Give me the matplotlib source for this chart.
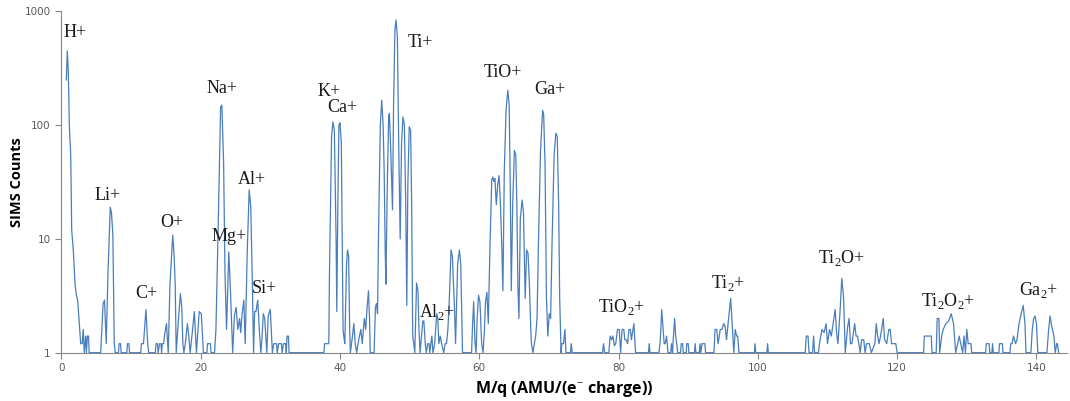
import numpy as np
import matplotlib
matplotlib.use('Agg')
from matplotlib import pyplot as plt

# spectrum vertices (mass/charge, counts)
mass = [
    0.72, 0.86, 1.0, 1.15, 1.35, 1.49, 1.72, 1.97, 2.16, 2.35, 2.58, 2.78, 3.0, 3.15, 3.3, 3.5, 3.6, 3.75, 3.9, 4.0,
    5.65, 6.0, 6.2, 6.45, 6.7, 7.03, 7.2, 7.4, 7.6, 7.75, 8.2, 8.3, 8.5, 8.6, 9.4, 9.5, 9.7, 9.8,
    11.4, 11.5, 11.8, 12.15, 12.4, 12.55, 13.5, 13.6, 13.8, 13.9, 14.1, 14.3, 14.4, 14.5, 14.7, 14.8, 15.1, 15.35,
    15.6, 16.0, 16.2, 16.35, 16.5, 16.85, 17.1, 17.3, 17.45, 17.6, 17.8, 18.1, 18.3, 18.5, 18.8, 19.1, 19.4,
    19.8, 20.1, 20.4, 20.9, 21.0, 21.4, 21.5, 22.0, 22.2, 22.5, 22.87, 23.05, 23.3, 23.5, 23.72, 24.05, 24.3,
    24.6, 24.85, 25.1, 25.35, 25.6, 25.75, 25.96, 26.2, 26.4, 26.7, 26.97, 27.2, 27.4, 27.6, 27.75, 27.95,
    28.2, 28.45, 28.65, 28.8, 29.0, 29.2, 29.5, 29.7, 30.0, 30.3, 30.5, 30.9, 31.0, 31.2, 31.6, 31.7, 31.9,
    32.2, 32.3, 32.4, 32.6, 32.7,
    37.7, 37.8, 38.4, 38.5, 38.8, 39.0, 39.2, 39.45, 39.55, 39.7, 39.85, 40.0, 40.2, 40.45, 40.55, 40.7,
    40.95, 41.1, 41.25, 41.4, 41.5, 41.8, 42.0, 42.2, 42.4, 42.6, 42.8, 43.0, 43.2, 43.5, 43.7, 43.9, 44.1,
    44.25, 44.35, 44.9, 45.1, 45.25, 45.4, 45.55, 45.8, 46.0, 46.2, 46.35, 46.5, 46.6, 46.8, 47.0, 47.1,
    47.3, 47.55, 47.7, 47.9, 48.05, 48.25, 48.45, 48.65, 48.85, 49.05, 49.25, 49.45, 49.6, 49.75, 49.95,
    50.15, 50.3, 50.45, 50.6, 50.75, 51.0, 51.2, 51.35, 51.5, 51.9, 52.05, 52.25, 52.4, 52.6, 52.8, 52.9,
    53.2, 53.35, 53.6, 53.9, 54.05, 54.2, 54.4, 54.6, 54.9, 55.1, 55.3, 55.5, 55.7, 55.95, 56.15, 56.3,
    56.45, 56.6, 56.9, 57.15, 57.35, 57.5, 57.6, 58.9, 59.05, 59.2, 59.4, 59.55, 59.7, 59.9, 60.1, 60.35,
    60.55, 60.75, 60.9, 61.1, 61.3, 61.55, 61.8, 61.95, 62.1, 62.25, 62.45, 62.65, 62.85, 63.05, 63.25,
    63.4, 63.6, 63.85, 64.1, 64.3, 64.45, 64.6, 64.8, 65.05, 65.25, 65.4, 65.55, 65.7, 65.9, 66.15, 66.35,
    66.5, 66.6, 66.8, 67.0, 67.2, 67.4, 67.5, 67.7, 68.1, 68.3, 68.5, 68.8, 69.1, 69.25, 69.45, 69.65,
    69.85, 70.05, 70.25, 70.45, 70.75, 71.0, 71.2, 71.4, 71.55, 71.75, 71.85, 72.1, 72.3, 72.45, 73.1,
    73.2, 73.35,
    77.7, 77.85, 78.0, 78.6, 78.8, 79.0, 79.2, 79.4, 79.6, 79.85, 80.1, 80.3, 80.5, 80.75, 80.9, 81.1,
    81.3, 81.5, 81.7, 81.85, 82.2, 82.45, 84.3, 84.4, 84.5, 85.8, 86.0, 86.2, 86.4, 86.55, 86.7, 86.9,
    87.1, 87.5, 87.6, 87.75, 87.85, 88.05, 88.2, 88.35, 88.5, 88.9, 89.0, 89.2, 89.3, 89.7, 89.8, 90.0,
    90.1, 90.9, 91.0, 91.1, 91.6, 91.7, 91.8, 92.0, 92.1, 92.4, 92.5,
    93.7, 93.85, 94.1, 94.3, 94.6, 94.85, 95.1, 95.3, 95.5, 95.8, 96.1, 96.35, 96.55, 96.75, 96.95, 97.1,
    97.3, 99.5, 99.6, 99.7, 101.3, 101.4, 101.5,
    106.8, 106.95, 107.2, 107.35, 107.85, 108.0, 108.15, 108.7, 108.85, 109.2, 109.5, 109.8, 110.0, 110.3,
    110.55, 110.8, 111.1, 111.3, 111.5, 111.8, 112.05, 112.3, 112.55, 112.9, 113.1, 113.3, 113.5, 113.9,
    114.1, 114.3, 114.5, 114.7, 114.9, 115.2, 115.4, 115.6, 116.0, 116.3, 116.8, 117.0, 117.2, 117.4,
    117.7, 118.0, 118.2, 118.5, 118.8, 119.0, 119.2, 119.6, 119.8, 120.0,
    123.8, 123.9, 124.9, 125.0, 125.6, 125.75, 126.0, 126.1, 126.4, 126.6, 127.0, 127.4, 127.75, 128.1,
    128.4, 128.7, 128.9, 129.4, 129.6, 129.8, 130.0, 130.2, 130.4, 130.6, 130.7,
    132.7, 132.8, 133.2, 133.3, 133.6, 133.7, 133.8, 134.6, 134.7, 135.1, 135.2, 136.2, 136.3, 136.5,
    136.7, 137.0, 137.2, 137.5, 137.8, 138.1, 138.35, 138.5, 139.2, 139.4, 139.6, 139.8, 140.0, 140.2,
    141.5, 141.75, 141.95, 142.2, 142.5, 142.7, 142.9, 143.0, 143.2,
]
counts = [
    250, 450, 300, 100, 55, 12, 8, 4, 3.2, 2.9, 1.8, 1.2, 1.2, 1.6, 1, 1.4, 1, 1.4, 1.4, 1,
    1, 2.7, 2.9, 1.2, 5, 19, 17, 11, 1.2, 1, 1, 1.2, 1.2, 1, 1, 1.2, 1.2, 1,
    1, 1.2, 1.2, 2.4, 1.2, 1, 1, 1.2, 1.2, 1, 1.2, 1.2, 1, 1.2, 1.2, 1.4, 1.8, 1,
    4, 10.8, 7, 4, 1, 2.1, 3.3, 2.5, 1.2, 1, 1.2, 1.8, 1.4, 1, 1.5, 2.3, 1,
    2.3, 2.2, 1, 1, 1.2, 1.2, 1, 1, 1.6, 11, 145, 150, 47, 5, 1.6, 7.7, 3.3,
    1, 2.1, 2.5, 1.6, 2, 1.5, 2.2, 2.9, 1.2, 8, 27, 19, 5, 1, 2.3, 2.3,
    2.9, 1.5, 1, 1.3, 2.2, 2, 1, 2.1, 2.4, 1, 1.2, 1.2, 1, 1.2, 1.2, 1, 1.2,
    1.2, 1, 1.4, 1.4, 1,
    1, 1.2, 1.2, 5, 80, 107, 90, 10, 2.3, 20, 100, 105, 70, 1.6, 1.4, 1.2,
    6, 8, 7, 1.6, 1, 1.4, 1.8, 1.2, 1, 1.2, 1.4, 1.6, 1.2, 2, 1.6, 2.5, 3.5,
    2, 1, 1, 2.5, 2.7, 2.2, 12, 100, 166, 100, 40, 8, 4, 30, 120, 127,
    60, 18, 150, 700, 840, 600, 60, 10, 70, 118, 100, 20, 2.6, 30, 97,
    90, 20, 1.4, 1.2, 1, 4.1, 3.5, 1.6, 1, 1.9, 1.9, 1.2, 1, 1.2, 1.2, 1,
    1.4, 1, 1.2, 2.2, 2, 1.2, 1.4, 1.2, 1, 1.2, 1.2, 1.6, 2.9, 8, 7, 4,
    2.5, 1.2, 6, 8, 6, 2, 1, 1, 1.8, 2.8, 1.2, 1, 2, 3.2, 2.8, 1.2,
    1, 1.6, 2.8, 3.4, 1.8, 9, 33, 35, 32, 34, 20, 30, 36, 20, 8,
    3.5, 40, 135, 203, 150, 30, 3.5, 20, 60, 55, 20, 3.8, 2, 15, 22, 17,
    6, 3, 8, 7.5, 4, 1.6, 1.2, 1, 1.4, 2, 9, 60, 135, 125, 45, 3,
    1.4, 2.2, 2, 9, 55, 85, 80, 20, 3, 1, 1.2, 1.2, 1.6, 1, 1,
    1.2, 1,
    1, 1.2, 1, 1, 1.4, 1.3, 1.4, 1.15, 1.2, 1.6, 1.6, 1, 1.6, 1.6, 1.3, 1.3,
    1.2, 1.6, 1.6, 1.3, 1.8, 1, 1, 1.2, 1, 1, 1.3, 2.4, 1.6, 1.2, 1.2, 1.4,
    1, 1, 1.2, 1, 1.3, 2.0, 1.4, 1.2, 1, 1, 1.2, 1.2, 1, 1, 1.2, 1.2,
    1, 1, 1.2, 1, 1, 1.2, 1, 1.2, 1.2, 1.2, 1,
    1, 1.6, 1.6, 1.2, 1.6, 1.6, 1.8, 1.7, 1.3, 2.0, 3.0, 1.6, 1, 1.6, 1.4, 1.4,
    1, 1, 1.2, 1, 1, 1.2, 1,
    1, 1.4, 1.4, 1, 1, 1.4, 1, 1, 1.2, 1.6, 1.5, 1.8, 1.2, 1.6,
    1.4, 1.8, 2.4, 1.5, 1.2, 2.3, 4.5, 3.1, 1, 1.7, 2.0, 1.2, 1.2, 1.8,
    1.4, 1.4, 1.2, 1, 1.3, 1.3, 1, 1.2, 1.2, 1, 1.2, 1.8, 1.4, 1.2,
    1.5, 2.0, 1.3, 1.2, 1.6, 1.6, 1.2, 1.2, 1.2, 1,
    1, 1.4, 1.4, 1, 1, 2.0, 2.0, 1, 1.4, 1.6, 1.8, 1.9, 2.2, 1.8,
    1, 1.2, 1.4, 1, 1.4, 1, 1.6, 1.2, 1.2, 1.2, 1,
    1, 1.2, 1.2, 1, 1, 1.2, 1, 1, 1.2, 1.2, 1, 1, 1.2, 1.2,
    1.4, 1.2, 1.3, 1.8, 2.2, 2.6, 1.8, 1, 1, 1.6, 2.0, 2.1, 1.8, 1,
    1, 1.6, 2.1, 1.7, 1.4, 1, 1.2, 1.2, 1,
]

# peak labels: (text, mass, counts)
peak_labels = ['H+', 'Li+', 'C+', 'O+', 'Na+', 'Mg+', 'Al+', 'Si+', 'K+', 'Ca+', 'Ti+',
               'Al$_2$+', 'TiO+', 'Ga+', 'TiO$_2$+', 'Ti$_2$+', 'Ti$_2$O+', 'Ti$_2$O$_2$+', 'Ga$_2$+']
label_x = [2.0, 6.7, 12.15, 15.9, 23.05, 24.1, 27.3, 29.2, 38.4, 40.4, 51.5,
           54.0, 63.4, 70.1, 80.4, 95.8, 112.0, 127.3, 140.3]
label_y = [650, 24, 3.3, 14, 212, 10.4, 33.6, 3.7, 199, 144, 537,
           2.3, 293, 207, 2.5, 4.1, 6.8, 2.85, 3.56]

plt.rcParams['mathtext.fontset'] = 'custom'
plt.rcParams['mathtext.rm'] = 'Liberation Serif'

fig = plt.figure(figsize=(10.7, 4.01), dpi=100)
ax = fig.add_axes([0.0573, 0.1205, 0.940, 0.851])

ax.plot(mass, counts, color='#4a7ebb', lw=0.9)
ax.set_yscale('log')
ax.set_ylim(1, 1000)
ax.set_xlim(0, 144.4)
ax.set_yticks([1, 10, 100, 1000])
ax.set_yticklabels(['1', '10', '100', '1000'])
ax.minorticks_off()
ax.set_xticks(np.arange(0, 141, 20))

for name, x, y in zip(peak_labels, label_x, label_y):
    ax.text(x, y, name, ha='center', va='center', fontsize=13,
            family='Liberation Serif', color='#1a1a1a')

for side in ['top', 'right']:
    ax.spines[side].set_visible(False)
for side in ['left', 'bottom']:
    ax.spines[side].set_color('#868686')
ax.tick_params(axis='both', colors='#868686', labelcolor='#595959',
               labelsize=7.5, length=4, direction='out')

ax.set_ylabel('SIMS Counts', fontsize=10.5, fontweight='bold', family='Open Sans')
ax.yaxis.set_label_coords(-0.037, 0.5)
ax.set_xlabel('M/q (AMU/(e$^{-}$ charge))', fontsize=11.5, fontweight='bold', family='Open Sans')
ax.xaxis.set_label_coords(0.5, -0.078)

plt.savefig('out.png', dpi=100)
